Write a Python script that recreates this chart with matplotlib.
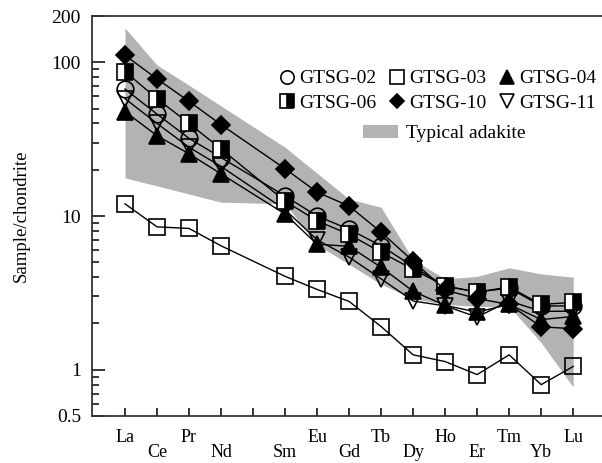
import matplotlib
matplotlib.use("Agg")
import matplotlib.pyplot as plt
from matplotlib.lines import Line2D
from matplotlib.patches import Patch
from matplotlib.ticker import FixedLocator, NullFormatter

plt.rcParams["font.family"] = ["Liberation Serif", "DejaVu Serif"]

# REE sequence (Pm keeps its slot on the axis but has no data)
ree_all = ["La", "Ce", "Pr", "Nd", "Pm", "Sm", "Eu", "Gd", "Tb", "Dy", "Ho", "Er", "Tm", "Yb", "Lu"]
elements = ["La", "Ce", "Pr", "Nd", "Sm", "Eu", "Gd", "Tb", "Dy", "Ho", "Er", "Tm", "Yb", "Lu"]

# chondrite-normalised values
gtsg02 = [67, 46, 32, 24, 13.5, 10.0, 8.2, 6.4, 4.7, 3.5, 3.2, 3.4, 2.6, 2.6]
gtsg03 = [12.0, 8.5, 8.3, 6.4, 4.05, 3.33, 2.78, 1.91, 1.25, 1.13, 0.93, 1.25, 0.80, 1.05]
gtsg04 = [47.8, 33.3, 25.4, 18.8, 10.3, 6.55, 6.35, 4.64, 3.24, 2.62, 2.37, 2.66, 2.12, 2.22]
gtsg06 = [87, 58, 40, 27.3, 12.5, 9.3, 7.6, 5.8, 4.5, 3.5, 3.2, 3.45, 2.66, 2.74]
gtsg10 = [111, 78, 55.7, 39.3, 20.3, 14.3, 11.6, 7.86, 5.08, 3.3, 2.9, 2.66, 1.9, 1.85]
gtsg11 = [58, 40, 28, 21, 11, 7.0, 5.4, 3.9, 2.8, 2.6, 2.2, 2.8, 2.4, 2.4]

adakite_upper = [167, 96, 71, 52, 28, 19, 12.9, 11.4, 5.2, 3.9, 4.05, 4.6, 4.2, 4.0]
adakite_lower = [17.7, 15.7, 13.9, 12.3, 12.0, 6.5, 4.85, 3.6, 2.9, 2.66, 2.58, 2.58, 1.5, 0.77]

series = [
    ("GTSG-02", gtsg02, dict(marker="o", mfc="none")),
    ("GTSG-11", gtsg11, dict(marker="v", mfc="none")),
    ("GTSG-04", gtsg04, dict(marker="^", mfc="black")),
    ("GTSG-06", gtsg06, dict(marker="s", mfc="black", fillstyle="right", markerfacecoloralt="white")),
    ("GTSG-10", gtsg10, dict(marker="D", mfc="black", ms=9)),
    ("GTSG-03", gtsg03, dict(marker="s", mfc="none")),
]

x = [ree_all.index(e) for e in elements]

fig = plt.figure(figsize=(6.02, 4.63), dpi=100)
ax = fig.add_axes([92 / 602, 47 / 463, 510 / 602, 400 / 463])

ax.fill_between(x, adakite_lower, adakite_upper, color="#b3b3b3", lw=0, zorder=1)

styles = {}
for name, vals, st in series:
    kw = dict(color="black", lw=1.0, mec="black", mew=1.2, ms=12)
    kw.update(st)
    ax.plot(x, vals, zorder=3, **kw)
    styles[name] = kw

ax.set_yscale("log")
ax.set_ylim(0.5, 200)
ax.set_xlim(-1.03, 14.9)

ax.yaxis.set_major_locator(FixedLocator([0.5, 1, 10, 100, 200]))
ax.yaxis.set_major_formatter(plt.FixedFormatter(["0.5", "1", "10", "100", "200"]))
minors = [v * d for d in (0.1, 1, 10) for v in range(2, 10) if 0.5 < v * d < 200 and v * d not in (1, 10, 100)]
ax.yaxis.set_minor_locator(FixedLocator(minors))
ax.yaxis.set_minor_formatter(NullFormatter())

even = list(range(0, len(ree_all), 2))
odd = list(range(1, len(ree_all), 2))
ax.set_xticks(even)
ax.set_xticklabels([ree_all[i] if ree_all[i] != "Pm" else "" for i in even])
ax.set_xticks(odd, minor=True)
ax.set_xticklabels([ree_all[i] if ree_all[i] != "Pm" else "" for i in odd], minor=True)

ax.tick_params(axis="y", which="major", direction="in", length=9, width=1.1, labelsize=14, pad=8)
ax.tick_params(axis="y", which="minor", direction="in", length=5, width=1.1)
ax.tick_params(axis="x", which="major", direction="in", length=6, width=1.1, labelsize=13, pad=9)
ax.tick_params(axis="x", which="minor", direction="in", length=6, width=1.1, labelsize=13, pad=20)

for side in ("left", "bottom", "top"):
    ax.spines[side].set_linewidth(1.3)
    ax.spines[side].set_color("#333333")
ax.spines["right"].set_visible(False)

ax.set_ylabel("Sample/chondrite", fontsize=13.5, labelpad=16)

order = ["GTSG-02", "GTSG-06", "GTSG-03", "GTSG-10", "GTSG-04", "GTSG-11"]
handles = []
for name in order:
    kw = dict(styles[name])
    kw["ls"] = "none"
    handles.append(Line2D([], [], **kw))
fig.legend(handles=handles, labels=order, ncol=3, loc="upper left",
           bbox_to_anchor=(269 / 602, 1 - 60 / 463), frameon=False, fontsize=14,
           borderpad=0, handlelength=0.8, handletextpad=0.25, columnspacing=0.65,
           labelspacing=0.35, markerscale=0.8)
fig.legend(handles=[Patch(color="#b3b3b3", lw=0)], labels=["Typical adakite"], loc="upper left",
           bbox_to_anchor=(353 / 602, 1 - 115 / 463), frameon=False, fontsize=14,
           borderpad=0, handlelength=1.8, handleheight=0.7, handletextpad=0.4)

fig.savefig("out.png", dpi=100)
